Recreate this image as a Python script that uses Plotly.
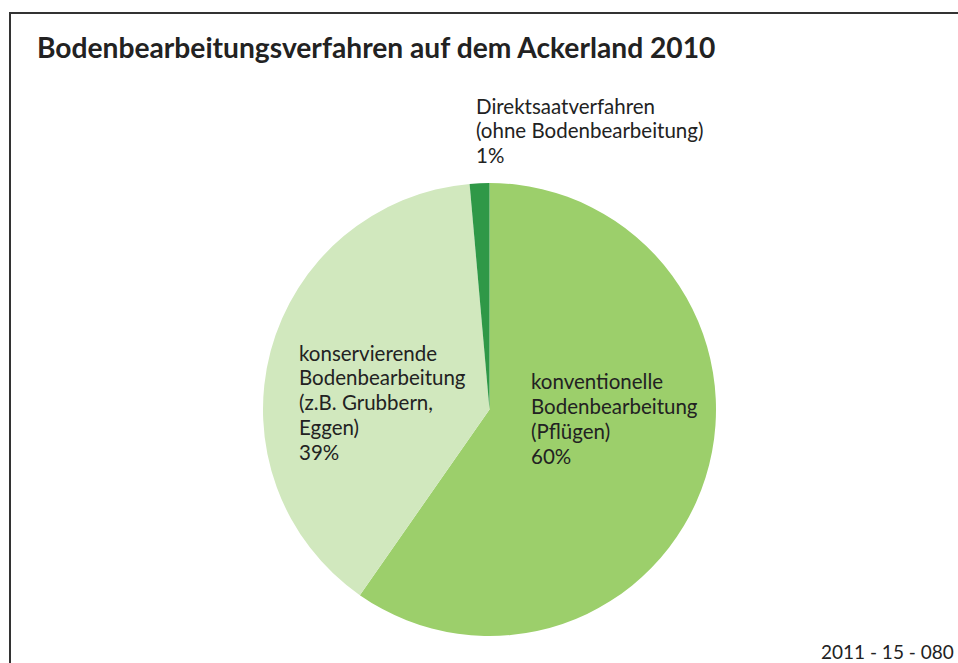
import plotly.graph_objects as go

categories = ["konventionelle Bodenbearbeitung (Pflügen)",
              "konservierende Bodenbearbeitung (z.B. Grubbern, Eggen)",
              "Direktsaatverfahren (ohne Bodenbearbeitung)"]
values = [59.7, 38.9, 1.4]
colors = ["#9ccf6b", "#d1e8be", "#2f9847"]
label_lines = [
    ["konventionelle", "Bodenbearbeitung", "(Pflügen)", "60%"],
    ["konservierende", "Bodenbearbeitung", "(z.B. Grubbern,", "Eggen)", "39%"],
    ["Direktsaatverfahren", "(ohne Bodenbearbeitung)", "1%"],
]
# left x and first-line baseline in pixels
label_pos = [(529, 388), (297, 359), (474, 112)]
LINE_STEP = 24.8

W, H = 958, 663
FONT = "Lato"
FS = 20.5

fig = go.Figure(go.Pie(
    labels=categories, values=values, sort=False, direction="clockwise",
    rotation=0, marker=dict(colors=colors, line=dict(width=0)),
    textinfo="none", hoverinfo="label+percent", showlegend=False,
    domain=dict(x=[263 / W, 716 / W], y=[1 - 636 / H, 1 - 183 / H]),
))

for lines, (px, py) in zip(label_lines, label_pos):
    for i, ln in enumerate(lines):
        mid = py + i * LINE_STEP - 6.5
        fig.add_annotation(text=ln, x=px / W, y=1 - mid / H, xref="paper", yref="paper",
                           xanchor="left", yanchor="middle", align="left", showarrow=False,
                           font=dict(family=FONT, size=FS, color="#222"))

fig.add_annotation(text="<b>Bodenbearbeitungsverfahren auf dem Ackerland 2010</b>",
                   x=35 / W, y=1 - 47 / H, xref="paper", yref="paper",
                   xanchor="left", yanchor="middle", showarrow=False,
                   font=dict(family=FONT, size=28.2, color="#222"))
fig.add_annotation(text="2011 - 15 - 080", x=956 / W, y=1 - 651 / H, xref="paper", yref="paper",
                   xanchor="right", yanchor="middle", showarrow=False,
                   font=dict(family=FONT, size=19, color="#222"))

fig.add_shape(type="rect", xref="paper", yref="paper",
              x0=10 / W, x1=1.05, y0=-0.05, y1=1 - 13 / H,
              line=dict(color="#333", width=2))

fig.update_layout(width=W, height=H, margin=dict(l=0, r=0, t=0, b=0),
                  paper_bgcolor="white", plot_bgcolor="white")
fig.write_html("out.html", config={"displayModeBar": False},
               post_script="document.body.style.margin='0';document.body.style.overflow='hidden';")
